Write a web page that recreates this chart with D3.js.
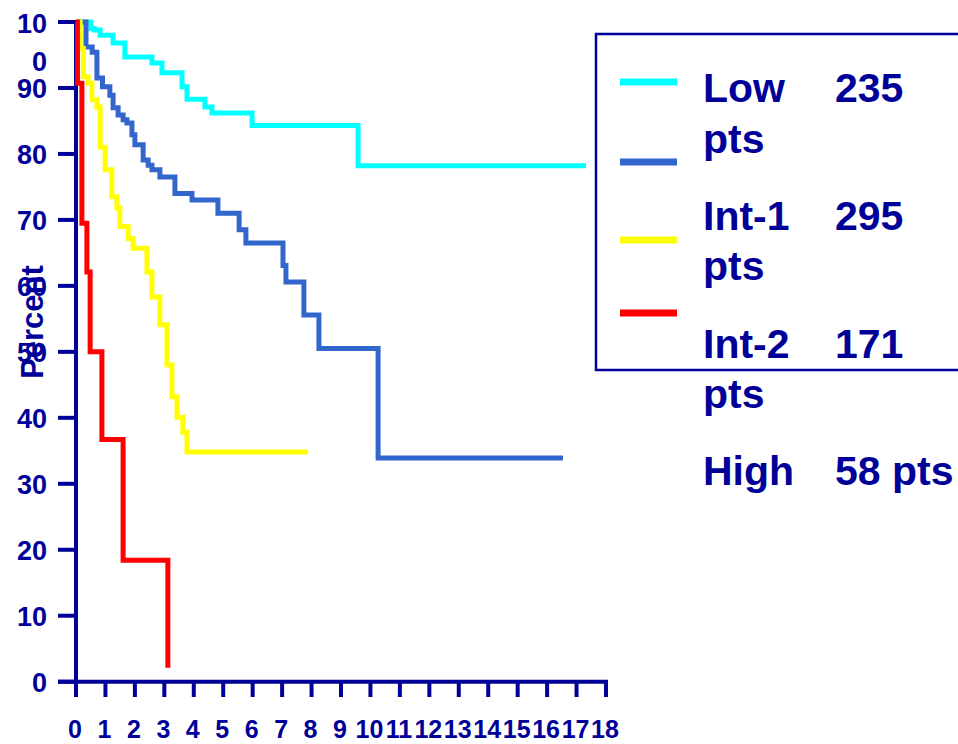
<!DOCTYPE html>
<html lang="en">
<head>
<meta charset="UTF-8">
<title>Survival by risk group</title>
<script src="https://d3js.org/d3.v7.min.js"></script>
<style>
    body { margin: 0; padding: 0; background: #ffffff; }
    svg { display: block; font-family: Arial, "Liberation Sans", sans-serif; font-weight: bold; }
    .axis-text { fill: #000099; }
</style>
</head>
<body>
<svg width="958" height="744"></svg>
<script>
// tick values
const xTicks = d3.range(0, 19);
const yTicks = [0, 10, 20, 30, 40, 50, 60, 70, 80, 90, 100];

// series: time (years) and percent surviving
const lowTimes = [0, 0.5, 0.62, 0.82, 1.26, 1.66, 2.58, 2.92, 3.6, 3.77, 4.38, 4.62, 5.98, 9.58, 17.32];
const lowPct   = [100, 99, 98.8, 98, 96.8, 94.7, 93.8, 92.3, 90.2, 88.3, 87.1, 86.2, 84.3, 78.2, 78.2];

const int1Times = [0, 0.34, 0.55, 0.71, 0.9, 1.15, 1.26, 1.43, 1.6, 1.73, 1.9, 2.0, 2.28, 2.45, 2.58, 2.85, 3.36, 3.94, 4.82, 5.54, 5.77, 7.03, 7.13, 7.74, 8.25, 10.26, 16.54];
const int1Pct   = [100, 96.2, 95.4, 91.5, 90.2, 88.9, 87, 85.9, 85.2, 84.7, 82.9, 81.4, 79.1, 78.3, 77.6, 76.5, 74.0, 73.0, 71.0, 68.5, 66.5, 63.1, 60.6, 55.6, 50.5, 33.9, 33.9];

const int2Times = [0, 0.14, 0.25, 0.41, 0.54, 0.71, 0.82, 0.99, 1.22, 1.39, 1.49, 1.77, 1.94, 2.41, 2.58, 2.85, 3.09, 3.26, 3.43, 3.63, 3.77, 7.88];
const int2Pct   = [100, 96, 91.7, 90.7, 88.2, 87.1, 81, 77.6, 73.5, 71.8, 69, 67.2, 65.7, 62.1, 58.3, 54.1, 48.0, 43.2, 40.1, 37.8, 34.8, 34.8];

const highTimes = [0, 0.05, 0.2, 0.37, 0.48, 0.88, 1.6, 3.12];
const highPct   = [100, 90.7, 69.5, 62.1, 50, 36.7, 18.4, 2.1];

const seriesColors = ["#00ffff", "#3366cc", "#ffff00", "#ff0000"];

const legendRows = [
    { a: "Low", b: "235" },
    { a: "pts", b: "" },
    { a: "Int-1", b: "295" },
    { a: "pts", b: "" },
    { a: "Int-2", b: "171" },
    { a: "pts", b: "" },
    { a: "High", b: "58 pts" }
];

const svg = d3.select("svg");
const navy = "#000099";

const x = d3.scaleLinear().domain([0, 18]).range([76, 606]);
const y = d3.scaleLinear().domain([0, 100]).range([681.7, 22]);

// axes lines
svg.append("line")
    .attr("x1", x(0)).attr("x2", x(0))
    .attr("y1", y(100)).attr("y2", y(0) + 2)
    .attr("stroke", navy).attr("stroke-width", 4);

svg.append("line")
    .attr("x1", 58).attr("x2", x(18) + 2)
    .attr("y1", y(0)).attr("y2", y(0))
    .attr("stroke", navy).attr("stroke-width", 4);

svg.selectAll(".ytick")
    .data(yTicks)
    .enter()
    .append("line")
    .attr("class", "ytick")
    .attr("x1", 58).attr("x2", x(0))
    .attr("y1", function(d) { return y(d); })
    .attr("y2", function(d) { return y(d); })
    .attr("stroke", navy).attr("stroke-width", 4);

svg.selectAll(".xtick")
    .data(xTicks)
    .enter()
    .append("line")
    .attr("class", "xtick")
    .attr("x1", function(d) { return x(d); })
    .attr("x2", function(d) { return x(d); })
    .attr("y1", y(0)).attr("y2", 697)
    .attr("stroke", navy).attr("stroke-width", 4);

// x tick labels
svg.selectAll(".xlabel")
    .data(xTicks)
    .enter()
    .append("text")
    .attr("class", "axis-text")
    .attr("x", function(d) { return x(d) - 1; })
    .attr("y", 738)
    .attr("text-anchor", "middle")
    .style("font-size", "25px")
    .text(function(d) { return d; });

// y tick labels ("100" wraps onto two lines in the original)
yTicks.forEach(function(d) {
    const t = svg.append("text")
        .attr("class", "axis-text")
        .attr("text-anchor", "end")
        .style("font-size", "27px");
    if (d === 100) {
        t.append("tspan").attr("x", 47).attr("y", y(d) + 11).text("10");
        t.append("tspan").attr("x", 47).attr("y", y(d) + 49).text("0");
    } else {
        t.attr("x", 47).attr("y", y(d) + 10).text(d);
    }
});

svg.append("text")
    .attr("class", "axis-text")
    .attr("transform", "translate(43,322) rotate(-90)")
    .attr("text-anchor", "middle")
    .style("font-size", "31px")
    .text("Percent");

// curves
const line = d3.line()
    .x(function(d) { return x(d[0]); })
    .y(function(d) { return y(d[1]); })
    .curve(d3.curveStepAfter);

const series = [
    d3.zip(lowTimes, lowPct),
    d3.zip(int1Times, int1Pct),
    d3.zip(int2Times, int2Pct),
    d3.zip(highTimes, highPct)
];

svg.selectAll(".curve")
    .data(series)
    .enter()
    .append("path")
    .attr("class", "curve")
    .attr("d", line)
    .attr("fill", "none")
    .attr("stroke", function(d, i) { return seriesColors[i]; })
    .attr("stroke-width", 5)
    .attr("stroke-linejoin", "miter");

// legend
svg.append("rect")
    .attr("x", 596).attr("y", 34)
    .attr("width", 400).attr("height", 336)
    .attr("fill", "none")
    .attr("stroke", navy).attr("stroke-width", 2.5);

const legendLineY = [82, 162, 240, 313];
svg.selectAll(".legend-line")
    .data(legendLineY)
    .enter()
    .append("line")
    .attr("x1", 620).attr("x2", 677)
    .attr("y1", function(d) { return d; })
    .attr("y2", function(d) { return d; })
    .attr("stroke", function(d, i) { return seriesColors[i]; })
    .attr("stroke-width", 7);

const rowY = [102, 153, 230, 280, 358, 408, 485];
legendRows.forEach(function(r, i) {
    svg.append("text")
        .attr("class", "axis-text")
        .attr("x", 703).attr("y", rowY[i])
        .style("font-size", "41px")
        .text(r.a);
    if (r.b) {
        svg.append("text")
            .attr("class", "axis-text")
            .attr("x", 835).attr("y", rowY[i])
            .style("font-size", "41px")
            .text(r.b);
    }
});
</script>
</body>
</html>
